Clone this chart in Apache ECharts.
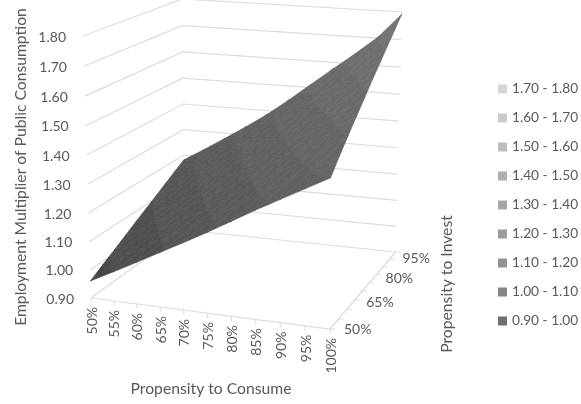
<!DOCTYPE html>
<html>
<head>
<meta charset="utf-8">
<style>html,body{margin:0;padding:0;background:#fff}#chart{width:581px;height:404px}</style>
<script src="https://cdn.jsdelivr.net/npm/echarts@6/dist/echarts.min.js"></script>
</head>
<body>
<div id="chart"></div>
<script>
// Axis categories and tick labels
const consumeLabels = ['50%','55%','60%','65%','70%','75%','80%','85%','90%','95%','100%'];
const investLabels = ['50%','55%','60%','65%','70%','75%','80%','85%','90%','95%'];
const investShown = ['50%','65%','80%','95%'];
const valueTicks = [0.9,1.0,1.1,1.2,1.3,1.4,1.5,1.6,1.7,1.8];
const bandNames = ['1.70 - 1.80','1.60 - 1.70','1.50 - 1.60','1.40 - 1.50','1.30 - 1.40','1.20 - 1.30','1.10 - 1.20','1.00 - 1.10','0.90 - 1.00'];
const bandLows = [1.7,1.6,1.5,1.4,1.3,1.2,1.1,1.0,0.9];
const legendColors = ['#d6d6d6','#cacaca','#bdbdbd','#b0b0b0','#a6a6a6','#9c9c9c','#929292','#868686','#6f6f6f'];
const surfaceColors = ['#727272','#6d6d6d','#696969','#656565','#606060','#5b5b5b','#555555','#4e4e4e','#454545'];

// Employment multiplier: one row per propensity to invest, one column per propensity to consume
const invest50 = [0.961,1.003,1.046,1.090,1.134,1.179,1.226,1.274,1.319,1.364,1.409];
const invest55 = [0.987,1.030,1.074,1.119,1.164,1.211,1.260,1.310,1.357,1.405,1.457];
const invest60 = [1.012,1.057,1.101,1.147,1.194,1.242,1.294,1.345,1.395,1.445,1.502];
const invest65 = [1.037,1.082,1.128,1.174,1.222,1.273,1.326,1.379,1.431,1.483,1.545];
const invest70 = [1.062,1.107,1.154,1.201,1.250,1.302,1.358,1.413,1.466,1.522,1.588];
const invest75 = [1.086,1.133,1.180,1.228,1.278,1.332,1.389,1.447,1.502,1.559,1.631];
const invest80 = [1.110,1.157,1.204,1.254,1.305,1.361,1.420,1.479,1.536,1.596,1.672];
const invest85 = [1.134,1.181,1.230,1.280,1.332,1.389,1.451,1.511,1.570,1.633,1.713];
const invest90 = [1.158,1.205,1.255,1.306,1.359,1.418,1.481,1.543,1.605,1.669,1.753];
const invest95 = [1.181,1.229,1.279,1.331,1.385,1.446,1.511,1.575,1.638,1.705,1.793];
const surface = [invest50,invest55,invest60,invest65,invest70,invest75,invest80,invest85,invest90,invest95];

// View of the box: screen position of its eight corners, indexed [consume][invest][value]
const corners = [
  [[[91,298],[83,36]], [[184.5,230],[182,-1]]],
  [[[330,329],[331,57]], [[395.5,252],[402,12]]]
];
const warp = (t, r) => t * r / ((1 - t) + t * r);
const mix = (a, b, t) => a + (b - a) * t;
function project(u, v, w) {
  const U = warp(u, 0.951), V = warp(v, 1.2), W = warp(w, 0.96);
  return [0, 1].map(k => mix(
    mix(mix(corners[0][0][0][k], corners[0][0][1][k], W), mix(corners[0][1][0][k], corners[0][1][1][k], W), V),
    mix(mix(corners[1][0][0][k], corners[1][0][1][k], W), mix(corners[1][1][0][k], corners[1][1][1][k], W), V),
    U));
}
const VMIN = 0.9, VMAX = 1.8;
const toW = val => (val - VMIN) / (VMAX - VMIN);
const nU = consumeLabels.length - 1, nV = investLabels.length - 1;

// Clip a triangle of [u,v,value] vertices against one value limit
function clip(poly, limit, keepAbove) {
  const out = [];
  const inside = p => keepAbove ? p[2] >= limit : p[2] <= limit;
  poly.forEach((a, i) => {
    const b = poly[(i + 1) % poly.length];
    if (inside(a)) out.push(a);
    if (inside(a) !== inside(b)) {
      const t = (limit - a[2]) / (b[2] - a[2]);
      out.push([mix(a[0], b[0], t), mix(a[1], b[1], t), limit]);
    }
  });
  return out;
}

// Split every grid cell into triangles and keep the pieces inside a value band
function bandPolygons(lo) {
  const hi = lo + 0.1, polys = [];
  for (let r = 0; r < nV; r++) for (let c = 0; c < nU; c++) {
    const a = [c / nU, r / nV, surface[r][c]], b = [(c + 1) / nU, r / nV, surface[r][c + 1]];
    const d = [c / nU, (r + 1) / nV, surface[r + 1][c]], e = [(c + 1) / nU, (r + 1) / nV, surface[r + 1][c + 1]];
    const m = [(c + 0.5) / nU, (r + 0.5) / nV, (a[2] + b[2] + d[2] + e[2]) / 4];
    [[a, b, m], [b, e, m], [e, d, m], [d, a, m]].forEach(tri => {
      const p = clip(clip(tri, lo, true), hi, false);
      if (p.length > 2) polys.push(p);
    });
  }
  return polys;
}

const gridColor = '#dcdcdc', textColor = '#595959', font = '14px Lato';

// Custom series fed with shapes described in box coordinates
function shapeSeries(name, items, z, build) {
  return {
    type: 'custom', name, coordinateSystem: 'cartesian2d', clip: false, silent: true, z,
    data: items.map((_, i) => [i, i]),
    renderItem: (params, api) => build(items[params.dataIndex], (u, v, w) => api.coord(project(u, v, w)))
  };
}

// Walls, floor and ticks
const wallLines = valueTicks.map(t => [[0,0,toW(t)],[0,1,toW(t)],[1,1,toW(t)]]);
wallLines.push([[0,0,0],[1,0,0],[1,1,0]]);
const lineSeries = shapeSeries('walls', wallLines, 1, (pts, at) => ({
  type: 'polyline',
  shape: { points: pts.map(p => at(p[0], p[1], p[2])) },
  style: { stroke: gridColor, lineWidth: 1.2, fill: null }
}));
const consumeTicks = shapeSeries('consume ticks', consumeLabels, 1, (label, at) => {
  const p = at(consumeLabels.indexOf(label) / nU, 0, 0);
  return { type: 'group', children: [
    { type: 'line', shape: { x1: p[0], y1: p[1], x2: p[0], y2: p[1] + 5 }, style: { stroke: gridColor, lineWidth: 1 } },
    { type: 'text', x: p[0] + 1, y: p[1] + 9, rotation: Math.PI / 2,
      style: { text: label, fill: textColor, font, align: 'right', verticalAlign: 'middle' } }
  ]};
});
const investTicks = shapeSeries('invest ticks', investLabels, 1, (label, at) => {
  const v = investLabels.indexOf(label) / nV, p = at(1, v, 0);
  const kids = [{ type: 'line', shape: { x1: p[0], y1: p[1], x2: p[0] + 5, y2: p[1] }, style: { stroke: gridColor, lineWidth: 1 } }];
  if (investShown.includes(label)) {
    kids.push({ type: 'text', x: p[0] + 14 - 7 * v, y: p[1] + 6 * v,
      style: { text: label, fill: textColor, font, align: 'left', verticalAlign: 'middle' } });
  }
  return { type: 'group', children: kids };
});
const valueLabels = shapeSeries('value labels', valueTicks, 1, (t, at) => {
  const p = at(0, 0, toW(t));
  return { type: 'text', x: p[0] - 17, y: p[1] + 1,
    style: { text: t.toFixed(2), fill: textColor, font, align: 'right', verticalAlign: 'middle' } };
});

// One series per value band, so the legend lists them natively
const bandSeries = bandNames.map((name, i) => {
  const fill = surfaceColors[i];
  return shapeSeries(name, bandPolygons(bandLows[i]), 5, (poly, at) => ({
    type: 'polygon',
    shape: { points: poly.map(p => at(p[0], p[1], toW(p[2]))) },
    style: { fill, stroke: fill, lineWidth: 0.6 }
  }));
});

const axisTitle = (text, x, y, rotation) => ({
  type: 'text', x, y, rotation, z: 10,
  style: { text, fill: textColor, font: '15.7px Lato', align: 'center', verticalAlign: 'middle' }
});

const chart = echarts.init(document.getElementById('chart'), null, { renderer: 'canvas' });
chart.setOption({
  animation: false,
  backgroundColor: '#fff',
  grid: { left: 0, right: 0, top: 0, bottom: 0 },
  xAxis: { type: 'value', min: 0, max: 581, show: false },
  yAxis: { type: 'value', min: 0, max: 404, inverse: true, show: false },
  legend: {
    orient: 'vertical', left: 498, top: 81, padding: 0, itemWidth: 9, itemHeight: 9, itemGap: 13, selectedMode: false,
    icon: 'rect', textStyle: { color: textColor, fontSize: 13.7, fontFamily: 'Lato', lineHeight: 16 },
    data: bandNames.map((name, i) => ({ name, itemStyle: { color: legendColors[i] } }))
  },
  graphic: [
    axisTitle('Employment Multiplier of Public Consumption', 21, 167, Math.PI / 2),
    axisTitle('Propensity to Consume', 211, 389, 0),
    axisTitle('Propensity to Invest', 447, 284, Math.PI / 2)
  ],
  series: [lineSeries, consumeTicks, investTicks, valueLabels].concat(bandSeries)
});
</script>
</body>
</html>
